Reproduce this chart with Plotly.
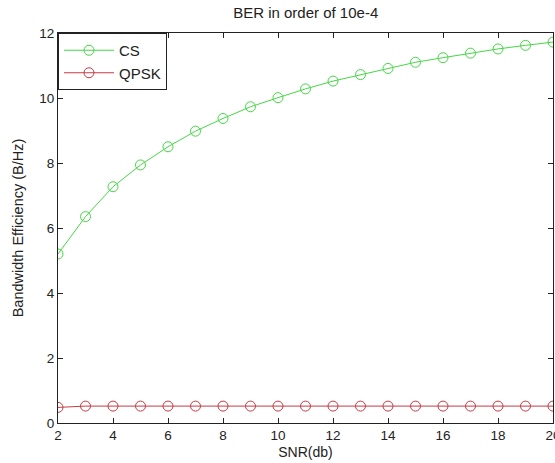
import plotly.graph_objects as go

snr = list(range(2, 21))
cs = [5.20, 6.35, 7.27, 7.94, 8.50, 8.98, 9.37, 9.73, 10.01, 10.28, 10.52,
      10.72, 10.91, 11.10, 11.24, 11.38, 11.51, 11.62, 11.72]
qpsk = [0.48, 0.52, 0.52, 0.52, 0.52, 0.52, 0.52, 0.52, 0.52, 0.52, 0.52,
        0.52, 0.52, 0.52, 0.52, 0.52, 0.52, 0.52, 0.52]

green = "rgb(70,215,70)"
red = "rgb(195,60,70)"
font = "Liberation Sans, Arial, sans-serif"
ink = "#222"

fig = go.Figure()
fig.add_trace(go.Scatter(x=snr, y=cs, name="CS", mode="lines+markers",
                         line=dict(color=green, width=1),
                         marker=dict(symbol="circle-open", size=10, color=green, line=dict(width=1))))
fig.add_trace(go.Scatter(x=snr, y=qpsk, name="QPSK", mode="lines+markers",
                         line=dict(color=red, width=1),
                         marker=dict(symbol="circle-open", size=10, color=red, line=dict(width=1))))

axis_common = dict(showline=True, linecolor=ink, linewidth=1, mirror="ticks",
                   ticks="inside", ticklen=5, tickcolor=ink, showgrid=False,
                   zeroline=False, automargin=False,
                   tickfont=dict(family=font, size=13.5, color=ink))

fig.update_layout(
    width=563, height=463,
    margin=dict(l=58, r=10, t=33, b=40),
    paper_bgcolor="white", plot_bgcolor="white",
    title=dict(text="BER in order of 10e-4", x=0.543, xanchor="center", y=0.972, yanchor="middle",
               font=dict(family=font, size=15, color=ink)),
    xaxis=dict(range=[2, 20], tickmode="array", tickvals=list(range(2, 21, 2)),
               title=dict(text="SNR(db)", font=dict(family=font, size=14, color=ink), standoff=4),
               **axis_common),
    yaxis=dict(range=[0, 12], tickmode="array", tickvals=list(range(0, 13, 2)),
               title=dict(text="Bandwidth Efficiency (B/Hz)", font=dict(family=font, size=14.5, color=ink), standoff=12),
               **axis_common),
    legend=dict(x=0, y=1, xanchor="left", yanchor="top", bordercolor=ink, borderwidth=1,
                bgcolor="white", font=dict(family=font, size=15, color=ink),
                itemwidth=50, tracegroupgap=0),
    showlegend=True,
)

fig.write_html("out.html", config={"displayModeBar": False},
               post_script="document.body.style.margin='0';document.body.style.overflow='hidden';")
